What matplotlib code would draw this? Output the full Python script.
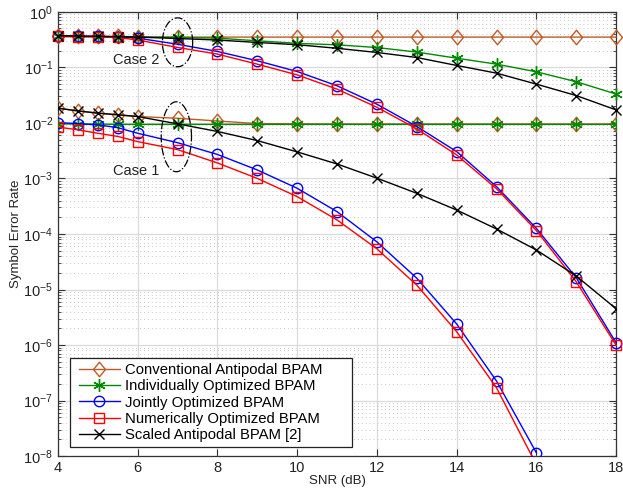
"""
Symbol error rate vs SNR: comparativa de esquemas BPAM (Case 1 / Case 2).
"""
import numpy as np
import matplotlib
matplotlib.use('Agg')
import matplotlib.pyplot as plt
from matplotlib.path import Path
from matplotlib.patches import Rectangle

plt.rcParams['font.family'] = ['Liberation Sans', 'DejaVu Sans']

# SNR (dB)
snr = [4, 4.5, 5, 5.5, 6, 7, 8, 9, 10, 11, 12, 13, 14, 15, 16, 17, 18]

# Case 2 (curvas superiores)
conv_c2 = [0.37, 0.365, 0.36, 0.36, 0.355, 0.35, 0.35, 0.35, 0.35, 0.35,
           0.35, 0.35, 0.35, 0.35, 0.35, 0.35, 0.35]
indiv_c2 = [0.36, 0.36, 0.355, 0.355, 0.35, 0.345, 0.335, 0.30, 0.27, 0.254,
            0.227, 0.188, 0.146, 0.114, 0.083, 0.055, 0.033]
joint_c2 = [0.36, 0.36, 0.36, 0.355, 0.335, 0.26, 0.193, 0.131, 0.084, 0.0465,
            0.0217, 0.0086, 0.00304, 7.1e-4, 1.26e-4, 1.63e-5, 1.1e-6]
numer_c2 = [0.36, 0.355, 0.355, 0.345, 0.31, 0.228, 0.173, 0.114, 0.073, 0.0405,
            0.0191, 0.0078, 0.00265, 6.5e-4, 1.15e-4, 1.38e-5, 0.99e-6]
scaled_c2 = [0.37, 0.365, 0.36, 0.355, 0.35, 0.33, 0.31, 0.28, 0.255, 0.22,
             0.185, 0.15, 0.108, 0.0785, 0.0498, 0.031, 0.0171]

# Case 1 (curvas inferiores)
conv_c1 = [0.0184, 0.0164, 0.0149, 0.0139, 0.013, 0.0121, 0.0108, 0.0097, 0.0096,
           0.0095, 0.0095, 0.0095, 0.0095, 0.0095, 0.0095, 0.0095, 0.0095]
indiv_c1 = [0.0096, 0.0095, 0.0095, 0.0094, 0.0094, 0.0094, 0.0094, 0.0094, 0.0094,
            0.0094, 0.0094, 0.0094, 0.0094, 0.0094, 0.0094, 0.0094, 0.0094]
joint_c1 = [0.0101, 0.0097, 0.0092, 0.0082, 0.0065, 0.0044, 0.0027, 0.00142, 6.65e-4,
            2.52e-4, 7.2e-5, 1.6e-5, 2.4e-6, 2.25e-7, 1.15e-8]
numer_c1 = [0.0084, 0.0075, 0.0065, 0.0057, 0.0046, 0.0033, 0.0019, 0.001, 4.7e-4,
            1.79e-4, 5.4e-5, 1.2e-5, 1.74e-6, 1.7e-7, 7e-9]
scaled_c1 = [0.0184, 0.0164, 0.015, 0.014, 0.013, 0.0096, 0.007, 0.0048, 0.0030,
             0.00182, 0.00101, 5.4e-4, 2.7e-4, 1.23e-4, 5.15e-5, 1.75e-5, 4.5e-6]

labels = ['Conventional Antipodal BPAM', 'Individually Optimized BPAM',
          'Jointly Optimized BPAM', 'Numerically Optimized BPAM',
          'Scaled Antipodal BPAM [2]']

BROWN = '#BF5A24'
GREEN = '#008A00'
BLUE = '#0000FF'
RED = '#FF0000'
BLACK = '#000000'

# rombo estilo MATLAB (algo mas ancho que 'd')
DIAMOND = Path([(0, 1), (0.82, 0), (0, -1), (-0.82, 0), (0, 1)],
               [Path.MOVETO, Path.LINETO, Path.LINETO, Path.LINETO, Path.CLOSEPOLY])

styles = [
    dict(color=BROWN, marker=DIAMOND, ms=10.5, mfc='none', mew=1.0),
    dict(color=GREEN, marker=(6, 2, 0), ms=9, mew=1.0),
    dict(color=BLUE, marker='o', ms=7.5, mfc='none', mew=1.0),
    dict(color=RED, marker='s', ms=7, mfc='none', mew=1.0),
    dict(color=BLACK, marker='x', ms=7, mew=1.0),
]

fig = plt.figure(figsize=(6.23, 4.9), dpi=100)
ax = fig.add_axes([0.093, 0.069, 0.896, 0.907])

series_c2 = [conv_c2, indiv_c2, joint_c2, numer_c2, scaled_c2]
series_c1 = [conv_c1, indiv_c1, joint_c1, numer_c1, scaled_c1]

for i, (st, lab) in enumerate(zip(styles, labels)):
    y2 = series_c2[i]
    y1 = series_c1[i]
    ax.plot(snr[:len(y2)], y2, lw=1.0, label=lab, clip_on=False, zorder=3 + i, **st)
    ax.plot(snr[:len(y1)], y1, lw=1.0, clip_on=True, zorder=3 + i, **st)

# elipses "Case" (dash-dot), parametricas en escala log
t = np.linspace(0, 2 * np.pi, 200)
ax.plot(7.0 + 0.38 * np.cos(t), 10 ** (-0.55 + 0.44 * np.sin(t)),
        color='k', lw=0.9, ls='-.', zorder=10)
ax.plot(6.97 + 0.38 * np.cos(t), 10 ** (-2.25 + 0.63 * np.sin(t)),
        color='k', lw=0.9, ls='-.', zorder=10)
ax.text(5.95, 0.136, 'Case 2', fontsize=10.5, ha='center', va='center', color='#222222')
ax.text(5.95, 0.00136, 'Case 1', fontsize=10.5, ha='center', va='center', color='#222222')

ax.set_yscale('log')
ax.set_xlim(4, 18)
ax.set_ylim(1e-8, 1)
ax.set_xticks([4, 6, 8, 10, 12, 14, 16, 18])
ax.set_yticks([10.0 ** k for k in range(-8, 1)])
ax.tick_params(which='both', direction='in', top=True, right=True,
               labelsize=10.5, colors='#333333')
ax.tick_params(which='major', length=5)
ax.tick_params(which='minor', length=2.5)
ax.xaxis.set_minor_locator(matplotlib.ticker.NullLocator())
ax.yaxis.set_minor_locator(matplotlib.ticker.LogLocator(base=10, subs=np.arange(2, 10), numticks=20))
ax.yaxis.set_minor_formatter(matplotlib.ticker.NullFormatter())
for lbl in ax.get_xticklabels() + ax.get_yticklabels():
    lbl.set_color('#222222')

ax.grid(True, which='major', color='#DADADA', lw=0.9, ls='-')
ax.grid(True, which='minor', axis='y', color='#C8C8C8', lw=0.7, ls=(0, (1, 3)))
ax.set_axisbelow(True)
for sp in ax.spines.values():
    sp.set_color('#333333')
    sp.set_linewidth(0.9)

ax.set_xlabel('SNR (dB)', fontsize=9.5, labelpad=0, color='#222222')
ax.set_ylabel('Symbol Error Rate', fontsize=9.5, labelpad=1, color='#222222')

# marco de leyenda tipo MATLAB (con margen derecho extra)
ax.add_patch(Rectangle((0.0215, 0.0203), 0.5055, 0.2004, transform=ax.transAxes,
                       facecolor='white', edgecolor='#222222', lw=0.9, zorder=19))
leg = ax.legend(loc='center left', bbox_to_anchor=(0.0376, 0.1205), fontsize=10.7,
                frameon=False, borderpad=0.0, labelspacing=0.15, handlelength=2.76,
                handletextpad=0.34, borderaxespad=0.0)
leg.set_zorder(20)

fig.savefig('out.png', dpi=100)
